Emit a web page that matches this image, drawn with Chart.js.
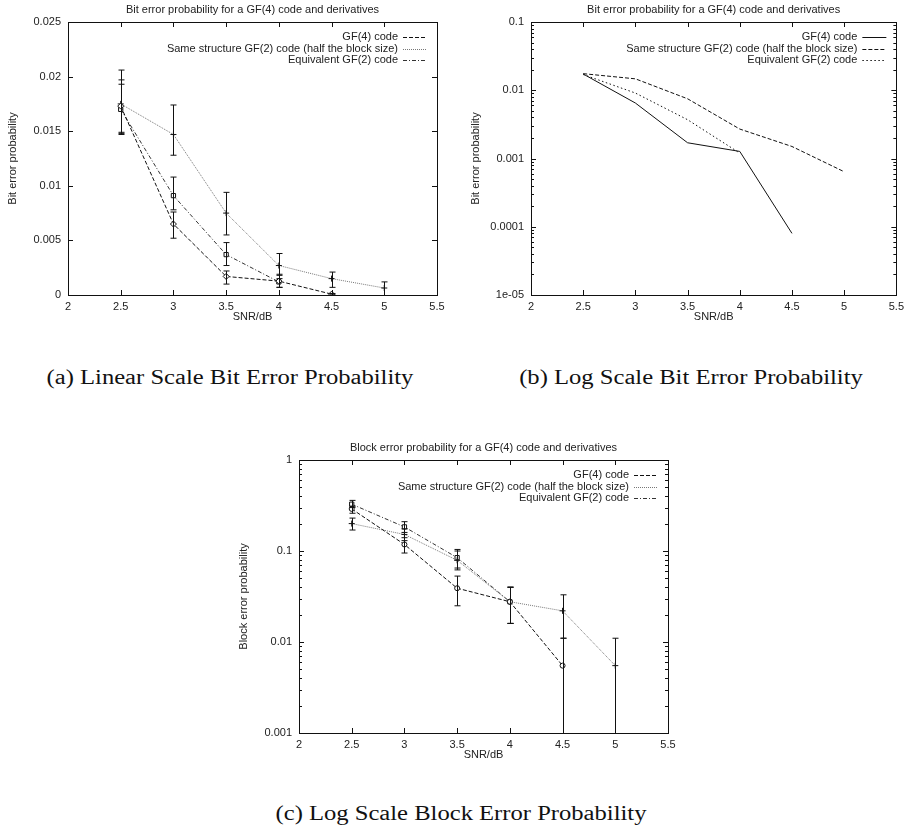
<!DOCTYPE html>
<html lang="en">
<head>
<meta charset="UTF-8" />
<title>Bit and block error probability for a GF(4) code</title>
<script src="https://cdn.jsdelivr.net/npm/chart.js"></script>
<style>
  body {
    margin: 0;
    background: #fff;
    width: 909px;
    height: 827px;
    overflow: hidden;
    position: relative;
  }
  canvas { position: absolute; }
  .caption {
    position: absolute;
    font-family: 'Liberation Serif', serif;
    font-size: 20px;
    color: #111;
    white-space: nowrap;
    transform: translate(-50%, -50%) scaleX(1.23);
  }
</style>
</head>
<body>
<canvas id="linBit" width="454" height="330" style="left:0;top:0"></canvas>
<canvas id="logBit" width="446" height="330" style="left:463px;top:0"></canvas>
<canvas id="logBlock" width="454" height="330" style="left:231px;top:438px"></canvas>
<div class="caption" style="left:230px;top:377px">(a) Linear Scale Bit Error Probability</div>
<div class="caption" style="left:691px;top:377px">(b) Log Scale Bit Error Probability</div>
<div class="caption" style="left:461px;top:813px">(c) Log Scale Block Error Probability</div>

<script>
// ---- data ----
const snr = [2.5, 3, 3.5, 4, 4.5, 5];
const xTicks = [2, 2.5, 3, 3.5, 4, 4.5, 5, 5.5];
const xTickLabels = ['2', '2.5', '3', '3.5', '4', '4.5', '5', '5.5'];

const seriesNames = [
  'GF(4) code',
  'Same structure GF(2) code (half the block size)',
  'Equivalent GF(2) code'
];

// bit error probability
const bitGF4 = [0.0173, 0.0065, 0.0017, 0.00127, 0.00008];
const bitGF4Lo = [0.0149, 0.0052, 0.0010, 0.0007, 0.00002];
const bitGF4Hi = [0.0197, 0.0076, 0.0022, 0.0019, 0.00014];
const bitHalf = [0.0175, 0.0147, 0.0075, 0.0027, 0.0015, 0.00064];
const bitHalfLo = [0.0147, 0.0128, 0.0055, 0.0015, 0.0007, 0];
const bitHalfHi = [0.0206, 0.0174, 0.0094, 0.0038, 0.0021, 0.0012];
const bitEquiv = [0.0170, 0.0091, 0.0037, 0.0012];
const bitEquivLo = [0.0148, 0.0078, 0.0027, 0.0007];
const bitEquivHi = [0.0193, 0.0108, 0.0048, 0.0018];

// block error probability
const blkGF4 = [0.29, 0.118, 0.039, 0.0277, 0.0055];
const blkGF4Lo = [0.26, 0.095, 0.025, 0.016, 0];
const blkGF4Hi = [0.31, 0.14, 0.053, 0.040, 0.011];
const blkHalf = [0.20, 0.152, 0.079, 0.0277, 0.022, 0.0055];
const blkHalfLo = [0.17, 0.13, 0.062, 0.016, 0.011, 0];
const blkHalfHi = [0.23, 0.175, 0.10, 0.040, 0.033, 0.011];
const blkEquiv = [0.327, 0.184, 0.0845, 0.0277];
const blkEquivLo = [0.30, 0.16, 0.065, 0.016];
const blkEquivHi = [0.36, 0.21, 0.104, 0.040];

// y ticks
const yTicksLin = [0, 0.005, 0.01, 0.015, 0.02, 0.025];
const yLabelsLin = ['0', '0.005', '0.01', '0.015', '0.02', '0.025'];
const yTicksBitLog = [1e-5, 1e-4, 1e-3, 1e-2, 0.1];
const yLabelsBitLog = ['1e-05', '0.0001', '0.001', '0.01', '0.1'];
const yTicksBlkLog = [0.001, 0.01, 0.1, 1];
const yLabelsBlkLog = ['0.001', '0.01', '0.1', '1'];

const FONT = "'Liberation Sans', Arial, sans-serif";
Chart.defaults.font.family = FONT;
Chart.defaults.font.size = 11;
Chart.defaults.color = '#222';

function pts(ys) {
  return ys.map((y, i) => ({ x: snr[i], y }));
}

// frame, inward ticks, title, legend
const framePlugin = {
  id: 'frame',
  afterDraw(chart, args, opts) {
    const { ctx, chartArea: a, scales } = chart;
    const xs = scales.x, ys = scales.y;
    ctx.save();
    ctx.strokeStyle = '#111';
    ctx.lineWidth = 1;
    ctx.beginPath();
    xs.ticks.forEach(t => {
      const px = Math.round(xs.getPixelForValue(t.value)) + 0.5;
      ctx.moveTo(px, a.bottom); ctx.lineTo(px, a.bottom - 5);
      ctx.moveTo(px, a.top); ctx.lineTo(px, a.top + 5);
    });
    ys.ticks.forEach(t => {
      const py = Math.round(ys.getPixelForValue(t.value)) + 0.5;
      ctx.moveTo(a.left, py); ctx.lineTo(a.left + 5, py);
      ctx.moveTo(a.right, py); ctx.lineTo(a.right - 5, py);
    });
    if (ys.type === 'logarithmic') {
      for (let d = Math.round(Math.log10(ys.min)); d < Math.round(Math.log10(ys.max)); d++) {
        for (let m = 2; m <= 9; m++) {
          const py = Math.round(ys.getPixelForValue(m * Math.pow(10, d))) + 0.5;
          ctx.moveTo(a.left, py); ctx.lineTo(a.left + 3, py);
          ctx.moveTo(a.right, py); ctx.lineTo(a.right - 3, py);
        }
      }
    }
    ctx.stroke();
    ctx.strokeRect(Math.round(a.left) + 0.5, Math.round(a.top) + 0.5,
      Math.round(a.right - a.left), Math.round(a.bottom - a.top));

    // title
    ctx.fillStyle = '#222';
    ctx.font = '11px ' + FONT;
    ctx.textAlign = 'center';
    ctx.textBaseline = 'middle';
    ctx.fillText(opts.title, (a.left + a.right) / 2, a.top - 12);

    // legend
    ctx.textAlign = 'right';
    chart.data.datasets.forEach((ds, i) => {
      const y = a.top + 15 + i * 11.6;
      ctx.fillStyle = '#222';
      ctx.fillText(ds.label, a.right - 39, y);
      ctx.strokeStyle = ds.borderColor;
      ctx.setLineDash(ds.borderDash || []);
      ctx.beginPath();
      ctx.moveTo(a.right - 34, Math.round(y) + 0.5);
      ctx.lineTo(a.right - 10, Math.round(y) + 0.5);
      ctx.stroke();
      ctx.setLineDash([]);
    });
    ctx.restore();
  }
};

// error bars
const errorBarPlugin = {
  id: 'errbars',
  afterDatasetsDraw(chart) {
    const { ctx, chartArea: a, scales } = chart;
    ctx.save();
    ctx.strokeStyle = '#111';
    ctx.lineWidth = 1;
    chart.data.datasets.forEach(ds => {
      if (!ds.lo) return;
      ds.lo.forEach((lo, i) => {
        const px = Math.round(scales.x.getPixelForValue(snr[i])) + 0.5;
        let y1 = lo > scales.y.min ? scales.y.getPixelForValue(lo) : a.bottom;
        let y2 = scales.y.getPixelForValue(ds.hi[i]);
        y1 = Math.min(y1, a.bottom);
        ctx.beginPath();
        ctx.moveTo(px, y1); ctx.lineTo(px, y2);
        if (y1 < a.bottom) { ctx.moveTo(px - 3, y1); ctx.lineTo(px + 3, y1); }
        ctx.moveTo(px - 3, y2); ctx.lineTo(px + 3, y2);
        ctx.stroke();
      });
    });
    ctx.restore();
  }
};

function makeChart(id, cfg) {
  const datasets = cfg.series.map((s, i) => ({
    label: seriesNames[i],
    data: pts(s.data),
    lo: s.lo,
    hi: s.hi,
    borderColor: s.color,
    borderDash: s.dash,
    borderWidth: 1,
    pointStyle: s.point || false,
    pointRadius: s.point ? (s.r || 3) : 0,
    pointBorderColor: '#111',
    pointBackgroundColor: '#fff',
    pointBorderWidth: 1,
    fill: false,
    tension: 0
  }));
  return new Chart(document.getElementById(id), {
    type: 'line',
    data: { datasets },
    plugins: [errorBarPlugin, framePlugin],
    options: {
      responsive: false,
      animation: false,
      events: [],
      layout: { padding: { top: 22, right: cfg.padRight, left: 0, bottom: 0 } },
      plugins: {
        legend: { display: false },
        tooltip: { enabled: false },
        frame: { title: cfg.title }
      },
      scales: {
        x: {
          type: 'linear',
          min: 2,
          max: 5.5,
          grid: { display: false, drawTicks: false },
          border: { display: false },
          afterBuildTicks: sc => { sc.ticks = xTicks.map(v => ({ value: v })); },
          afterFit: sc => { sc.height = 35; },
          ticks: {
            padding: 5,
            autoSkip: false,
            maxRotation: 0,
            color: '#222',
            callback: (v, i) => xTickLabels[i]
          },
          title: { display: true, text: 'SNR/dB', color: '#222', padding: { top: 0, bottom: 6.5 } }
        },
        y: {
          type: cfg.yType,
          min: cfg.yTicks[0],
          max: cfg.yTicks[cfg.yTicks.length - 1],
          grid: { display: false, drawTicks: false },
          border: { display: false },
          afterBuildTicks: sc => { sc.ticks = cfg.yTicks.map(v => ({ value: v })); },
          afterFit: sc => { sc.width = 68; },
          ticks: {
            padding: 7,
            autoSkip: false,
            color: '#222',
            callback: (v, i) => cfg.yLabels[i]
          },
          title: { display: true, text: cfg.yTitle, color: '#222', padding: { top: 6.5, bottom: 0 } }
        }
      }
    }
  });
}

makeChart('linBit', {
  title: 'Bit error probability for a GF(4) code and derivatives',
  yTitle: 'Bit error probability',
  yType: 'linear',
  yTicks: yTicksLin,
  yLabels: yLabelsLin,
  padRight: 17,
  series: [
    { data: bitGF4, lo: bitGF4Lo, hi: bitGF4Hi, color: '#111', dash: [4, 2], point: 'rectRot' },
    { data: bitHalf, lo: bitHalfLo, hi: bitHalfHi, color: '#777', dash: [1, 1], point: 'cross' },
    { data: bitEquiv, lo: bitEquivLo, hi: bitEquivHi, color: '#333', dash: [4, 2, 1, 2], point: 'rect' }
  ]
});

makeChart('logBit', {
  title: 'Bit error probability for a GF(4) code and derivatives',
  yTitle: 'Bit error probability',
  yType: 'logarithmic',
  yTicks: yTicksBitLog,
  yLabels: yLabelsBitLog,
  padRight: 9,
  series: [
    { data: bitGF4, color: '#111', dash: [] },
    { data: bitHalf, color: '#111', dash: [4, 2] },
    { data: bitEquiv, color: '#111', dash: [1.5, 2.5] }
  ]
});

makeChart('logBlock', {
  title: 'Block error probability for a GF(4) code and derivatives',
  yTitle: 'Block error probability',
  yType: 'logarithmic',
  yTicks: yTicksBlkLog,
  yLabels: yLabelsBlkLog,
  padRight: 17,
  series: [
    { data: blkGF4, lo: blkGF4Lo, hi: blkGF4Hi, color: '#111', dash: [4, 2], point: 'circle', r: 2.5 },
    { data: blkHalf, lo: blkHalfLo, hi: blkHalfHi, color: '#777', dash: [1, 1], point: 'cross' },
    { data: blkEquiv, lo: blkEquivLo, hi: blkEquivHi, color: '#333', dash: [4, 2, 1, 2], point: 'rect' }
  ]
});
</script>
</body>
</html>
